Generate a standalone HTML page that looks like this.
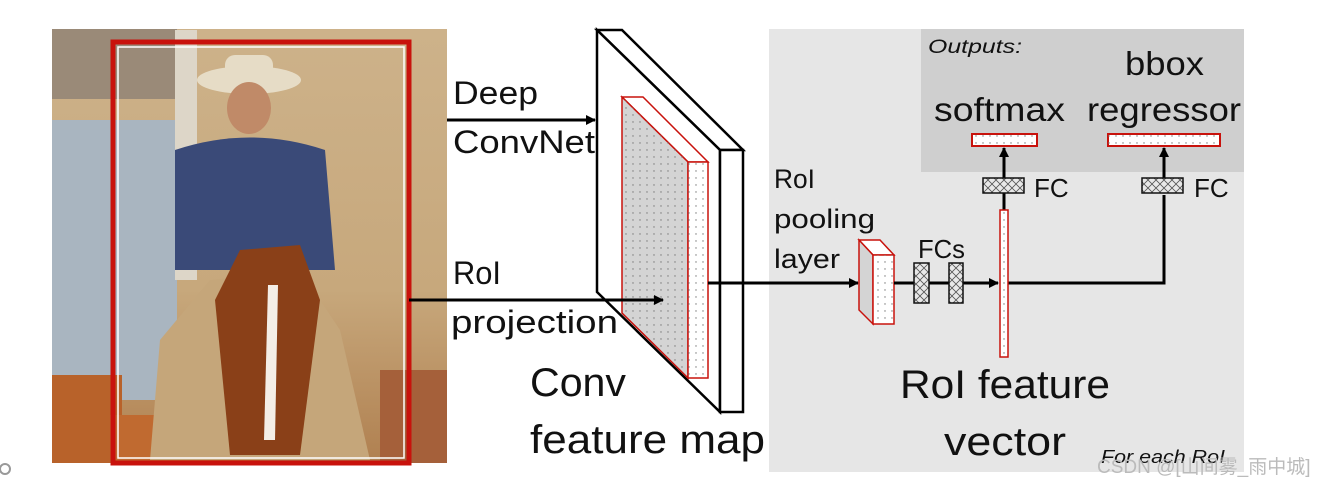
<!DOCTYPE html>
<html><head><meta charset="utf-8"><style>
html,body{margin:0;padding:0;background:#fff;width:1324px;height:486px;overflow:hidden}
svg{display:block}
text{font-family:"Liberation Sans","DejaVu Sans",sans-serif;fill:#111}
</style></head><body>
<svg width="1324" height="486" viewBox="0 0 1324 486" xmlns="http://www.w3.org/2000/svg">
<defs>
<pattern id="dots" width="7" height="7" patternUnits="userSpaceOnUse"><circle cx="3" cy="3" r="0.7" fill="#777"/></pattern>
<pattern id="xh" width="8" height="8" patternUnits="userSpaceOnUse"><rect width="8" height="8" fill="#e8e8e8"/><path d="M0 0L8 8M8 0L0 8" stroke="#555" stroke-width="0.8"/></pattern>
<marker id="ah" markerWidth="10" markerHeight="10" refX="9" refY="5" orient="auto" markerUnits="userSpaceOnUse"><path d="M0 0L10 5L0 10z" fill="#000"/></marker>
<linearGradient id="bg" x1="0" y1="0" x2="0" y2="1"><stop offset="0" stop-color="#cdb28a"/><stop offset="0.6" stop-color="#c7a87c"/><stop offset="1" stop-color="#b08050"/></linearGradient>
</defs>
<rect x="52" y="29" width="395" height="434" fill="url(#bg)"/>
<rect x="52" y="29" width="125" height="70" fill="#9a8a78"/>
<rect x="52" y="120" width="125" height="280" fill="#a9b5c0"/>
<rect x="175" y="30" width="22" height="250" fill="#ddd6c8"/>
<rect x="52" y="375" width="70" height="88" fill="#b8622a"/>
<rect x="110" y="415" width="150" height="48" fill="#c06a30"/>
<rect x="380" y="370" width="67" height="93" fill="#a5603a"/>
<path d="M150 460 L160 340 L210 280 L300 270 L340 330 L370 460Z" fill="#c5a67a"/>
<path d="M175 150 Q250 125 325 150 L335 270 L175 270Z" fill="#3a4a78"/>
<ellipse cx="249" cy="80" rx="52" ry="14" fill="#e6dcc6"/>
<rect x="225" y="55" width="48" height="28" rx="10" fill="#e6dcc6"/>
<ellipse cx="249" cy="108" rx="22" ry="26" fill="#c08a68"/>
<path d="M215 300 L240 250 L300 245 L320 300 L300 455 L230 455 Z" fill="#8a4018"/>
<path d="M268 285 L278 285 L275 440 L264 440Z" fill="#f4eee6"/>
<rect x="113" y="42" width="296" height="421" fill="none" stroke="#c8120c" stroke-width="5"/>
<rect x="118" y="47" width="286" height="411" fill="none" stroke="#fff" stroke-width="1.5"/>
<rect x="769" y="29" width="475" height="443" fill="#e6e6e6"/>
<rect x="921" y="29" width="323" height="143" fill="#cfcfcf"/>
<line x1="447" y1="120" x2="595" y2="120" stroke="#000" stroke-width="3" marker-end="url(#ah)"/>
<polygon points="597,30 622,30 743,150 720,150" fill="#fff" stroke="#000" stroke-width="2.5"/>
<polygon points="597,30 720,150 720,412 597,292" fill="#fff" stroke="#000" stroke-width="2.5"/>
<rect x="720" y="150" width="23" height="262" fill="#fff" stroke="#000" stroke-width="2.5"/>
<polygon points="622,97 643,97 708,162 688,162" fill="#fff" stroke="#c8120c" stroke-width="1.5"/>
<polygon points="622,97 688,162 688,378 622,313" fill="#d4d4d4" stroke="#c8120c" stroke-width="1.5"/>
<polygon points="622,97 688,162 688,378 622,313" fill="url(#dots)"/>
<rect x="688" y="162" width="20" height="216" fill="#fff" stroke="#c8120c" stroke-width="1.5"/>
<rect x="688" y="162" width="20" height="216" fill="url(#dots)"/>
<line x1="409" y1="300" x2="663" y2="300" stroke="#000" stroke-width="3" marker-end="url(#ah)"/>
<line x1="708" y1="283" x2="858" y2="283" stroke="#000" stroke-width="3" marker-end="url(#ah)"/>
<polygon points="859,240 880,240 894,255 873,255" fill="#fff" stroke="#c8120c" stroke-width="1.5"/>
<polygon points="859,240 873,255 873,324 859,310" fill="#d4d4d4" stroke="#c8120c" stroke-width="1.5"/>
<rect x="873" y="255" width="21" height="69" fill="#fff" stroke="#c8120c" stroke-width="1.5"/>
<rect x="873" y="255" width="21" height="69" fill="url(#dots)"/>
<line x1="894" y1="283" x2="998" y2="283" stroke="#000" stroke-width="3" marker-end="url(#ah)"/>
<rect x="914" y="263" width="15" height="40" fill="url(#xh)" stroke="#111" stroke-width="1.5"/>
<rect x="949" y="263" width="14" height="40" fill="url(#xh)" stroke="#111" stroke-width="1.5"/>
<polyline points="1008,283 1164,283 1164,195" fill="none" stroke="#000" stroke-width="3"/>
<line x1="1004" y1="210" x2="1004" y2="190" stroke="#000" stroke-width="3"/>
<line x1="1004" y1="178" x2="1004" y2="148" stroke="#000" stroke-width="3" marker-end="url(#ah)"/>
<line x1="1164" y1="178" x2="1164" y2="148" stroke="#000" stroke-width="3" marker-end="url(#ah)"/>
<rect x="1000" y="210" width="8" height="147" fill="#fff" stroke="#c8120c" stroke-width="1.5"/>
<rect x="1000" y="210" width="8" height="147" fill="url(#dots)"/>
<rect x="983" y="178" width="41" height="15" fill="url(#xh)" stroke="#111" stroke-width="1.5"/>
<rect x="1142" y="178" width="41" height="15" fill="url(#xh)" stroke="#111" stroke-width="1.5"/>
<rect x="972" y="134" width="65" height="12" fill="#fff" stroke="#c8120c" stroke-width="2"/>
<rect x="1108" y="134" width="112" height="12" fill="#fff" stroke="#c8120c" stroke-width="2"/>
<rect x="972" y="134" width="65" height="12" fill="url(#dots)"/>
<rect x="1108" y="134" width="112" height="12" fill="url(#dots)"/>
<g lengthAdjust="spacingAndGlyphs">
<text x="453" y="104" font-size="32" textLength="85" lengthAdjust="spacingAndGlyphs">Deep</text>
<text x="453" y="153" font-size="32" textLength="142" lengthAdjust="spacingAndGlyphs">ConvNet</text>
<text x="453" y="284" font-size="32" textLength="48" lengthAdjust="spacingAndGlyphs">RoI</text>
<text x="451" y="333" font-size="32" textLength="167" lengthAdjust="spacingAndGlyphs">projection</text>
<text x="530" y="396" font-size="40" textLength="96" lengthAdjust="spacingAndGlyphs">Conv</text>
<text x="530" y="453" font-size="40" textLength="235" lengthAdjust="spacingAndGlyphs">feature map</text>
<text x="774" y="188" font-size="27" textLength="41" lengthAdjust="spacingAndGlyphs">RoI</text>
<text x="774" y="228" font-size="27" textLength="101" lengthAdjust="spacingAndGlyphs">pooling</text>
<text x="774" y="268" font-size="27" textLength="66" lengthAdjust="spacingAndGlyphs">layer</text>
<text x="918" y="258" font-size="26" textLength="47" lengthAdjust="spacingAndGlyphs">FCs</text>
<text x="1034" y="197" font-size="26">FC</text>
<text x="1194" y="197" font-size="26">FC</text>
<text x="928" y="53" font-size="19" font-style="italic" textLength="94" lengthAdjust="spacingAndGlyphs">Outputs:</text>
<text x="934" y="121" font-size="33" textLength="131" lengthAdjust="spacingAndGlyphs">softmax</text>
<text x="1125" y="75" font-size="33" textLength="79" lengthAdjust="spacingAndGlyphs">bbox</text>
<text x="1087" y="121" font-size="33" textLength="154" lengthAdjust="spacingAndGlyphs">regressor</text>
<text x="900" y="398" font-size="40" textLength="210" lengthAdjust="spacingAndGlyphs">RoI feature</text>
<text x="944" y="455" font-size="40" textLength="122" lengthAdjust="spacingAndGlyphs">vector</text>
<text x="1101" y="463" font-size="18" font-style="italic" textLength="124" lengthAdjust="spacingAndGlyphs">For each RoI</text>
</g>
<text x="1097" y="473" font-size="19" style="fill:#bbb;font-family:'Liberation Sans','Noto Sans CJK SC',sans-serif">CSDN @[山间雾_雨中城]</text>
<circle cx="5" cy="469" r="5" fill="none" stroke="#999" stroke-width="2"/>
</svg>
</body></html>
